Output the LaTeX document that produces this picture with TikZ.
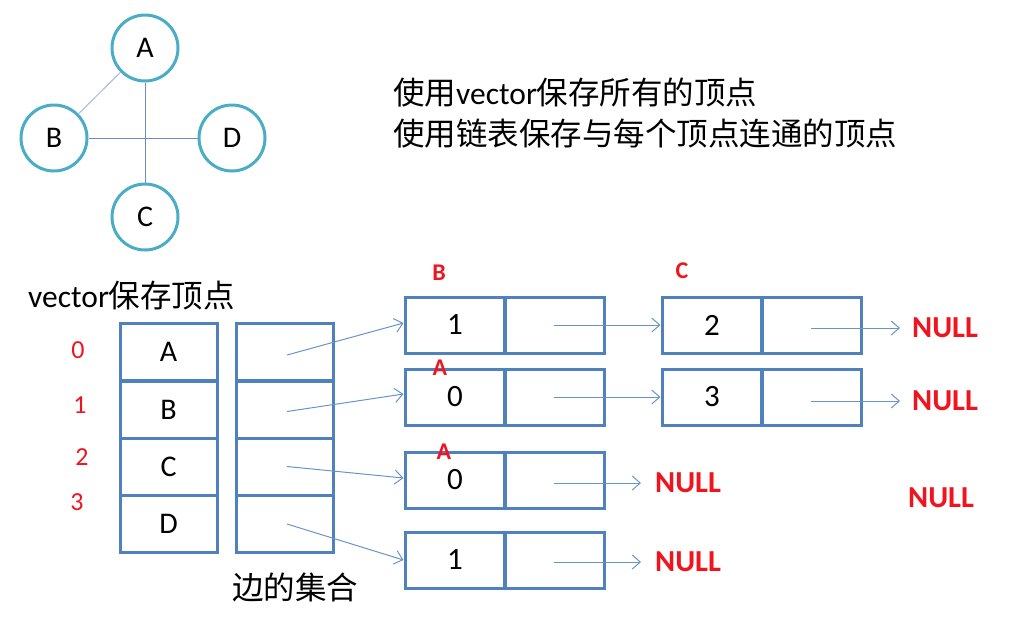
\documentclass[tikz,border=0pt]{standalone}
\usepackage{fontspec}
\setmainfont{Carlito}
\newfontfamily\cjk{Noto Sans CJK SC}
\usetikzlibrary{arrows.meta}
\definecolor{teal}{RGB}{75,172,198}
\definecolor{boxblue}{RGB}{79,129,189}
\definecolor{edgeblue}{RGB}{110,140,200}
\definecolor{nullred}{RGB}{240,20,30}
\begin{document}
\begin{tikzpicture}[x=1pt,y=-1pt,
  vert/.style={circle,draw=teal,line width=3pt,minimum size=66pt,inner sep=0pt,font=\fontsize{30}{30}\selectfont},
  gedge/.style={draw=edgeblue,line width=1pt},
  cell/.style={rectangle,draw=boxblue,line width=3pt,minimum width=97pt,minimum height=57pt,inner sep=0pt,font=\fontsize{30}{30}\selectfont},
  lcell/.style={rectangle,draw=boxblue,line width=3pt,minimum width=100pt,minimum height=56pt,inner sep=0pt,font=\fontsize{31}{31}\selectfont},
  ptr/.style={draw=boxblue!85,line width=1pt,-{Straight Barb[length=8pt,width=14pt,line width=1pt]}},
  nulltext/.style={text=nullred,font=\fontsize{30.5}{30.5}\selectfont\bfseries,inner sep=0pt,anchor=west},
  redlab/.style={text=nullred,font=\fontsize{24}{24}\selectfont\bfseries,inner sep=0pt},
  idx/.style={text=nullred,font=\fontsize{26}{26}\selectfont,inner sep=0pt},
  cjktext/.style={font=\fontsize{31.5}{31.5}\selectfont,inner sep=0pt,anchor=west}]
\useasboundingbox (0,0) rectangle (1011,625);
% graph
\node[vert] (A) at (145,48) {A};
\node[vert] (B) at (54,138) {B};
\node[vert] (D) at (232,138) {D};
\node[vert] (C) at (145,217) {C};
\draw[gedge,draw=edgeblue!60] (A) -- (B);
\draw[gedge] (B.east) -- (D.west);
\draw[gedge] (A.south) -- (C.north);
% description
\node[cjktext] (t1) at (393,93) {{\cjk 使用}vector{\cjk 保存所有的顶点}};
\node[cjktext] (t2) at (393,134) {\cjk 使用链表保存与每个顶点连通的顶点};
% vector
\node[cjktext] (vt) at (28,296) {vector{\cjk 保存顶点}};
\node[cell] (v0) at (168.5,352) {A};
\node[cell] (v1) at (168.5,409.5) {B};
\node[cell] (v2) at (168.5,466.5) {C};
\node[cell] (v3) at (168.5,524) {D};
\node[cell] (e0) at (285,352) {};
\node[cell] (e1) at (285,409.5) {};
\node[cell] (e2) at (285,466.5) {};
\node[cell] (e3) at (285,524) {};
\node[idx] (i0) at (78,350) {0};
\node[idx] (i1) at (80,405) {1};
\node[idx] (i2) at (82,457) {2};
\node[idx] (i3) at (77,502) {3};
\node[cjktext] (et) at (232,587) {\cjk 边的集合};
% lists
\node[lcell] (a1) at (455,325) {1};
\node[lcell] (a1p) at (554,325) {};
\node[lcell] (a2) at (712,325) {2};
\node[lcell] (a2p) at (811,325) {};
\node[lcell] (b1) at (455,397) {0};
\node[lcell] (b1p) at (554,397) {};
\node[lcell] (b2) at (712,397) {3};
\node[lcell] (b2p) at (811,397) {};
\node[lcell] (c1) at (455,480) {0};
\node[lcell] (c1p) at (554,480) {};
\node[lcell] (d1) at (455,560) {1};
\node[lcell] (d1p) at (554,560) {};
% red labels
\node[redlab] (lb) at (439,273) {B};
\node[redlab] (lc) at (682,271) {C};
\node[redlab] (la1) at (440,368) {A};
\node[redlab] (la2) at (444,452) {A};
% NULLs
\node[nulltext] (n1) at (912,328) {NULL};
\node[nulltext] (n2) at (912,401) {NULL};
\node[nulltext] (n3) at (655,483) {NULL};
\node[nulltext] (n4) at (655,562) {NULL};
\node[nulltext] (n5) at (908,498) {NULL};
% pointers
\draw[ptr] (e0.center) ++(2,3) -- ([yshift=2pt]a1.west);
\draw[ptr] (e1.center) ++(2,2) -- ([yshift=3pt]b1.west);
\draw[ptr] (e2.center) ++(2,0) -- ([yshift=2pt]c1.west);
\draw[ptr] (e3.center) ++(2,0) -- (d1.west);
\draw[ptr] (a1p.center) -- (a2.west);
\draw[ptr] (b1p.center) -- (b2.west);
\draw[ptr] (a2p.center |- n1.west) -- ([xshift=-12pt]n1.west);
\draw[ptr] (b2p.center |- n2.west) -- ([xshift=-12pt]n2.west);
\draw[ptr] (c1p.center |- n3.west) -- ([xshift=-14pt]n3.west);
\draw[ptr] (d1p.center |- n4.west) -- ([xshift=-14pt]n4.west);
\end{tikzpicture}
\end{document}
